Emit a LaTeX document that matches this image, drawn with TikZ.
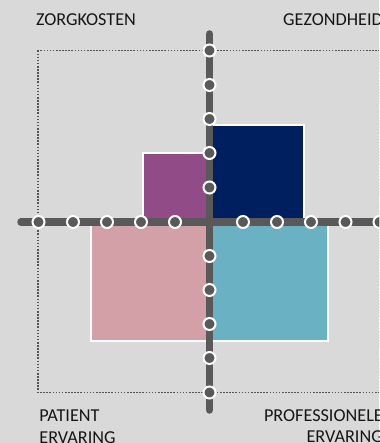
\documentclass[tikz,border=0pt]{standalone}
\usepackage{fontspec}
\setmainfont{Carlito}
\definecolor{bg}{HTML}{D9D9D9}
\definecolor{axisgray}{HTML}{595959}
\definecolor{dotgray}{HTML}{555555}
\definecolor{purp}{HTML}{914C88}
\definecolor{navy}{HTML}{001F5F}
\definecolor{pinkc}{HTML}{D3A0A8}
\definecolor{tealc}{HTML}{6AB2C3}
\definecolor{txt}{HTML}{161616}
\tikzset{
  lbl/.style={inner sep=0pt, text=txt, font=\fontsize{18.2}{21}\selectfont},
  quad/.style={draw=white, line width=2pt},
  axisline/.style={draw=axisgray, line width=7.5pt, line cap=round},
  dotbox/.style={draw=dotgray, line width=1.8pt, dash pattern=on 1.6pt off 1.5pt},
  tick/.style={circle, fill=axisgray, draw=white, line width=2pt, minimum size=12pt, inner sep=0pt}
}
\begin{document}
\begin{tikzpicture}[x=1pt, y=-1pt]
\useasboundingbox (0,0) rectangle (379,443);
\fill[bg] (0,0) rectangle (379,443);
\clip (0,0) rectangle (379,443);
% dotted frame
\draw[dotbox] (38,50.5) rectangle (380,392.5);
% quadrant blocks
\filldraw[quad, fill=purp] (143,153) rectangle (209,222);
\filldraw[quad, fill=navy] (209,125) rectangle (304,222);
\filldraw[quad, fill=pinkc] (91,222) rectangle (209,341);
\filldraw[quad, fill=tealc] (209,222) rectangle (328,341);
% axes
\coordinate (vtop) at (209.5,34);
\coordinate (vbot) at (209.5,410);
\coordinate (hl) at (21,222);
\coordinate (hr) at (400,222);
\draw[axisline] (vtop) -- (vbot);
\draw[axisline] (hl) -- (hr);
% ticks
\foreach \x [count=\i] in {38.5,73,107,141,175,243,277,311,345.5,379.5}
  \node[tick] (h\i) at (\x,222) {};
\foreach \y [count=\i] in {50.5,85,119,153,187.5,256,290,324,358,392.5}
  \node[tick] (v\i) at (209.5,\y) {};
% labels
\node[lbl, anchor=base west] (zk) at (35.8,26) {ZORGKOSTEN};
\node[lbl, anchor=base east] (gz) at (383,26) {GEZONDHEID};
\node[lbl, anchor=base west] (pa1) at (39.2,421.5) {PATIENT};
\node[lbl, anchor=base west] (pa2) at (39.2,443) {ERVARING};
\node[lbl, anchor=base east] (pr1) at (383,421) {PROFESSIONELE};
\node[lbl, anchor=base east] (pr2) at (383,442.5) {ERVARING};
\end{tikzpicture}
\end{document}
